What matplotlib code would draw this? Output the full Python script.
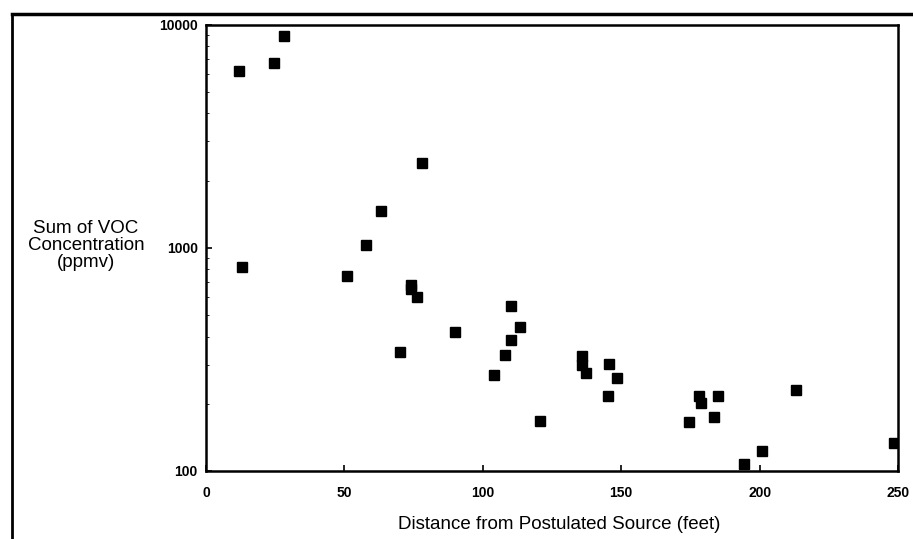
import matplotlib
matplotlib.use('Agg')
import matplotlib.pyplot as plt
from matplotlib.lines import Line2D
from matplotlib.ticker import FixedLocator, LogLocator, NullFormatter

plt.rcParams['font.family'] = ['Liberation Sans', 'DejaVu Sans']

# distance from postulated source (feet) and VOC sum (ppmv)
distance = [12, 24.6, 28.2, 13, 51, 57.8, 63.2, 78, 74, 74, 76.2, 70.1,
            90, 110.2, 113.4, 110.2, 108, 104, 120.7, 135.8, 135.8, 137.3,
            145.6, 148.5, 145.2, 174.5, 178.1, 178.8, 185, 183.5, 213,
            194.4, 200.9, 248.6]
voc_sum = [6220, 6760, 8930, 822, 748, 1030, 1466, 2400, 682, 655, 602, 342,
           420, 550, 443, 386, 331, 270, 168, 328, 299, 275,
           302, 261, 217, 166, 217, 202, 217, 175, 231,
           107, 123, 134]

x_ticks = [0, 50, 100, 150, 200, 250]
y_ticks = [100, 1000, 10000]

fig = plt.figure(figsize=(9.13, 5.39), dpi=100)
ax = fig.add_axes([0.2256, 0.1262, 0.758, 0.828])

ax.plot(distance, voc_sum, linestyle='none', marker='s', color='black',
        markersize=6.5)

ax.set_yscale('log')
ax.set_xlim(0, 250)
ax.set_ylim(100, 10000)

ax.xaxis.set_major_locator(FixedLocator(x_ticks))
ax.yaxis.set_major_locator(FixedLocator(y_ticks))
ax.yaxis.set_minor_locator(LogLocator(base=10, subs=range(2, 10)))
ax.yaxis.set_minor_formatter(NullFormatter())
ax.set_xticklabels([str(t) for t in x_ticks], fontsize=10, fontweight='bold')
ax.set_yticklabels([str(t) for t in y_ticks], fontsize=10, fontweight='bold')

ax.tick_params(axis='both', which='major', direction='in', length=4, width=1.2)
ax.tick_params(axis='x', which='major', pad=11)
ax.tick_params(axis='y', which='major', pad=6)
ax.tick_params(axis='y', which='minor', direction='in', length=2, width=0.6)
for s in ax.spines.values():
    s.set_linewidth(1.8)

fig.text(0.612, 0.026, 'Distance from Postulated Source (feet)', ha='center',
         va='center', fontsize=13.5)
fig.text(0.094, 0.545, 'Sum of VOC\nConcentration\n(ppmv)', ha='center', va='center',
         fontsize=13.5, linespacing=1.0)

# page frame lines
fig.add_artist(Line2D([12 / 913, 12 / 913], [0, 1 - 14 / 539], color='black',
                      linewidth=2, transform=fig.transFigure))
fig.add_artist(Line2D([12 / 913, 1], [1 - 14 / 539, 1 - 14 / 539], color='black',
                      linewidth=2.5, transform=fig.transFigure))

fig.savefig('out.png', dpi=100)
